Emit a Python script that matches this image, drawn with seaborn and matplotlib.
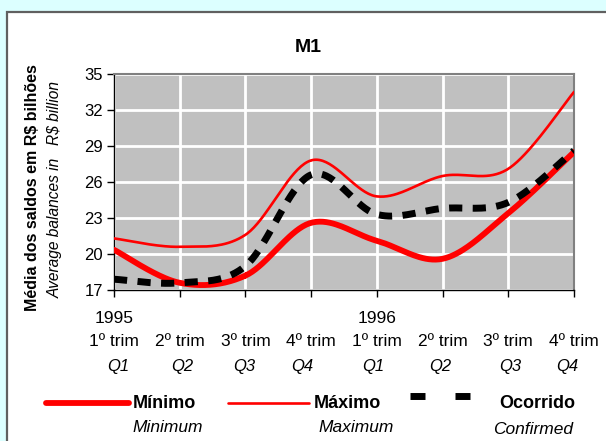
import numpy as np
import pandas as pd
import matplotlib
matplotlib.use("Agg")
import matplotlib.pyplot as plt
import seaborn as sns
from matplotlib.lines import Line2D
from matplotlib.patches import Rectangle

# ---- data ----
years = ["1995", "", "", "", "1996", "", "", ""]
quarters = ["1º trim", "2º trim", "3º trim", "4º trim", "1º trim", "2º trim", "3º trim", "4º trim"]
q_labels = ["Q1", "Q2", "Q3", "Q4", "Q1", "Q2", "Q3", "Q4"]
minimo = [20.35, 17.6, 18.2, 22.6, 21.1, 19.6, 23.4, 28.5]
maximo = [21.3, 20.6, 21.6, 27.8, 24.8, 26.5, 27.1, 33.5]
ocorrido = [17.9, 17.6, 19.0, 26.6, 23.3, 23.8, 24.3, 28.6]
yticks = [17, 20, 23, 26, 29, 32, 35]
q_offsets_px = [4, 3, -1, -9, -4, -2, 2, -7]   # label nudges seen in the reference


def smooth(vals, n=40):
    """Catmull-Rom smoothing (like Excel's smoothed line)."""
    x = np.arange(len(vals), dtype=float)
    y = np.asarray(vals, dtype=float)
    X = np.concatenate([[x[0]], x, [x[-1]]])
    Y = np.concatenate([[y[0]], y, [y[-1]]])
    xs, ys = [], []
    t = np.linspace(0, 1, n)
    for i in range(1, len(X) - 2):
        for P, out in ((X, xs), (Y, ys)):
            p0, p1, p2, p3 = P[i - 1], P[i], P[i + 1], P[i + 2]
            out.extend(0.5 * (2 * p1 + (-p0 + p2) * t
                              + (2 * p0 - 5 * p1 + 4 * p2 - p3) * t ** 2
                              + (-p0 + 3 * p1 - 3 * p2 + p3) * t ** 3))
    return np.array(xs), np.array(ys)


sns.set_style("white")
plt.rcParams["font.family"] = ["Liberation Sans", "DejaVu Sans"]
for k in ["text.color", "axes.labelcolor", "xtick.color", "ytick.color"]:
    plt.rcParams[k] = "black"

W, H = 606, 441
fig = plt.figure(figsize=(W / 100, H / 100), dpi=100)
fig.patch.set_facecolor("#dcffff")
fig.patches.append(Rectangle((7 / W, -0.1), 1.0, 1 - 12 / H + 0.1, transform=fig.transFigure,
                             facecolor="white", edgecolor="#606060", lw=1.6, zorder=-10))

ax = fig.add_axes([114 / W, 1 - 290 / H, 460 / W, 216 / H])
ax.set_zorder(2)
ax.set_facecolor("#c0c0c0")

xs, ys = smooth(minimo)
sns.lineplot(x=xs, y=ys, ax=ax, color="#ff0000", lw=4.2, sort=False, estimator=None,
             solid_capstyle="round", zorder=3)
xs, ys = smooth(maximo)
sns.lineplot(x=xs, y=ys, ax=ax, color="#ff0000", lw=1.9, sort=False, estimator=None, zorder=3)
xs, ys = smooth(ocorrido)
sns.lineplot(x=xs, y=ys, ax=ax, color="black", lw=5, sort=False, estimator=None,
             linestyle=(0, (1.9, 1.5)), dash_capstyle="butt", zorder=4)

ax.set_xlim(0, 7)
ax.set_ylim(17, 35)
ax.set_yticks(yticks)
ax.set_yticklabels([str(v) for v in yticks], fontsize=12)
ax.set_xticks(range(len(quarters)))
ax.set_xticklabels([])
ax.grid(True, color="white", lw=2)
ax.set_axisbelow(True)
ax.tick_params(axis="both", direction="out", length=5, width=1, color="black", pad=3,
               bottom=True, left=True)
for s in ["left", "bottom"]:
    ax.spines[s].set_color("black")
    ax.spines[s].set_linewidth(1)
for s in ["top", "right"]:
    ax.spines[s].set_color("#808080")
    ax.spines[s].set_linewidth(1.5)
ax.set_xlabel("")
ax.set_ylabel("")

tr = ax.get_xaxis_transform()
for i, (yr, qt, ql, off) in enumerate(zip(years, quarters, q_labels, q_offsets_px)):
    if yr:
        ax.text(i, -0.13, yr, transform=tr, ha="center", va="center", fontsize=12.5)
    ax.text(i, -0.24, qt, transform=tr, ha="center", va="center", fontsize=12.5)
    ax.annotate(ql, xy=(i, -0.352), xycoords=tr, xytext=(off * 0.72, 0),
                textcoords="offset points", ha="center", va="center",
                fontsize=12, style="italic")

fig.text(308 / W, 1 - 47 / H, "M1", ha="center", va="center", fontsize=14, fontweight="bold")
fig.text(33 / W, 1 - 188 / H, "Média dos saldos em R$ bilhões", rotation=90,
         ha="center", va="center", fontsize=11.5, fontweight="bold")
fig.text(55 / W, 1 - 189 / H, "Average balances in   R$ billion", rotation=90,
         ha="center", va="center", fontsize=11.2, style="italic")

# ---- legend ----
ly = 1 - 403 / H
fig.lines.append(Line2D([46 / W, 129 / W], [ly, ly], transform=fig.transFigure,
                        color="#ff0000", lw=4.2, solid_capstyle="round"))
fig.lines.append(Line2D([228 / W, 309 / W], [ly, ly], transform=fig.transFigure,
                        color="#ff0000", lw=1.9))
for x0 in (410, 455):
    fig.lines.append(Line2D([x0 / W, (x0 + 15) / W], [1 - 396 / H] * 2, transform=fig.transFigure,
                            color="black", lw=5, solid_capstyle="butt"))
fig.text(133 / W, ly, "Mínimo", ha="left", va="center", fontsize=13, fontweight="bold")
fig.text(314 / W, ly, "Máximo", ha="left", va="center", fontsize=13, fontweight="bold")
fig.text(575 / W, ly, "Ocorrido", ha="right", va="center", fontsize=13, fontweight="bold")
fig.text(168 / W, 1 - 428 / H, "Minimum", ha="center", va="center", fontsize=12.5, style="italic")
fig.text(356 / W, 1 - 427 / H, "Maximum", ha="center", va="center", fontsize=12.5, style="italic")
fig.text(533 / W, 1 - 429 / H, "Confirmed", ha="center", va="center", fontsize=12.5, style="italic")

fig.savefig("out.png", dpi=100, facecolor=fig.get_facecolor())
